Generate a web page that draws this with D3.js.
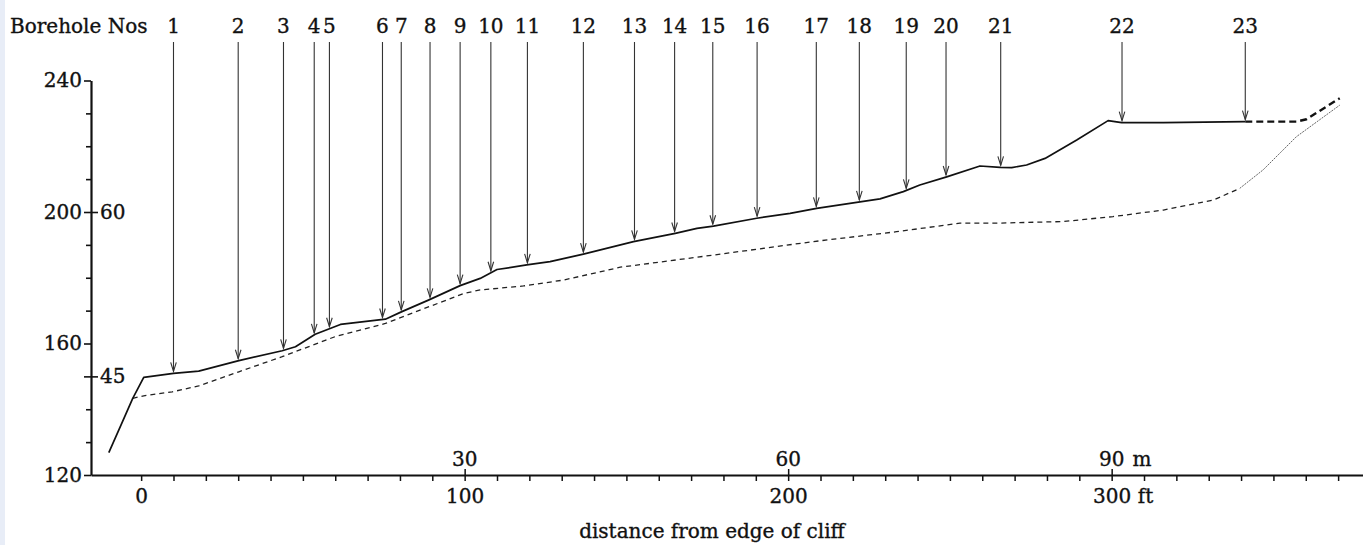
<!DOCTYPE html>
<html>
<head>
<meta charset="utf-8">
<script src="https://cdn.jsdelivr.net/npm/d3@7"></script>
<style>
  body { margin: 0; background: #fff; }
  svg { display: block; }
  svg text { stroke: #111; stroke-width: 0.35px; }
</style>
</head>
<body>
<div id="profile"></div>
<script>
// borehole numbers and their distance from the cliff edge (ft)
var boreholeNos = [1, 2, 3, 4, 5, 6, 7, 8, 9, 10, 11, 12, 13, 14, 15, 16, 17, 18, 19, 20, 21, 22, 23];
var boreholeDist = [10, 30, 44, 53.5, 58.2, 74.6, 80.4, 89.3, 98.6, 108.1, 119.4, 136.7, 152.5, 164.9, 176.7, 190.4, 208.7, 222, 236.5, 248.8, 265.7, 303.2, 341.3];

// ground surface (solid), ft
var surfDist = [-10, -6, -2.6, 0.8, 10, 17.8, 30.2, 43.6, 47.7, 53.8, 61.6, 75.5, 80.6, 88.8, 98.6, 104.8, 110, 119.2, 126.4, 136.7, 152.2, 165.1, 171.8, 176.9, 190.3, 200.6, 208.8, 222.2, 228.4, 235.6, 240.7, 249, 259.3, 265.5, 269.1, 273.7, 279.4, 289.2, 298.9, 303.1, 316, 341.3];
var surfElev = [126.8, 135.7, 143.3, 149.7, 150.9, 151.6, 154.8, 157.8, 159, 162.8, 165.8, 167.4, 169.7, 173.2, 177.6, 179.8, 182.5, 183.9, 184.9, 187.2, 191, 193.5, 195, 195.7, 198.1, 199.6, 201.1, 203.1, 204, 206.2, 208.2, 210.7, 214, 213.6, 213.5, 214.3, 216.3, 221.9, 227.8, 227.2, 227.2, 227.5];

// ground surface beyond borehole 23 (heavy dashes)
var surfExtDist = [341.3, 357.1, 360.2, 370.5];
var surfExtElev = [227.5, 227.5, 228.2, 234.6];

// lower surface (dashed)
var lowerDist = [-2.6, 0.8, 9.6, 17.8, 30.2, 43.6, 60, 75.5, 89, 100, 104.8, 118.2, 130.6, 148.1, 176.9, 207.8, 233.5, 253.1, 264.4, 285, 300.4, 316, 331.4, 339.6];
var lowerElev = [143.3, 144.1, 145.3, 147.1, 151.4, 156, 162.1, 166.1, 171.2, 175.3, 176.3, 177.5, 179.3, 183.2, 186.9, 191, 194, 196.6, 196.6, 197.1, 198.6, 200.6, 203.6, 207.2];

// lower surface where it rises to meet the ground (fine line)
var lowerExtDist = [339.6, 346.8, 357.1, 370.5];
var lowerExtElev = [207.2, 212.8, 222.9, 232.5];

// axis labels
var yLabelsFt = [120, 160, 200, 240];
var yLabelsM = ["45", "60"];
var yLabelsMAt = [150, 200];
var xLabelsFt = [0, 100, 200, 300];
var xLabelsM = ["30", "60", "90"];
var xLabelsMAt = [100, 200, 300];

var width = 1363, height = 545;
var font = "'DejaVu Serif', 'Liberation Serif', serif";

var svg = d3.select("#profile")
  .append("svg")
    .attr("width", width)
    .attr("height", height)
    .style("font-family", font);

// scanned page edge on the left
svg.append("rect")
  .attr("x", 0).attr("y", 0)
  .attr("width", 5).attr("height", height)
  .attr("fill", "#e8edf7");

var x = d3.scaleLinear()
  .domain([-15.5, 378])
  .range([91, 1364]);

var y = d3.scaleLinear()
  .domain([120, 240])
  .range([475, 80.5]);

// Y axis (ft on the left, metres on the right)
var yAxis = svg.append("g")
  .attr("transform", "translate(" + x(-15.5) + ",0)")
  .call(d3.axisLeft(y)
    .tickValues(d3.range(120, 241, 10))
    .tickSize(5)
    .tickSizeOuter(0)
    .tickPadding(4)
    .tickFormat(function(d) { return yLabelsFt.indexOf(d) >= 0 ? d : ""; }));

yAxis.select(".domain").attr("stroke", "#111").attr("stroke-width", 2.2);
yAxis.selectAll(".tick line")
  .attr("stroke", "#111")
  .attr("stroke-width", 1.6)
  .attr("x1", function(d) { return yLabelsMAt.indexOf(d) >= 0 ? 7 : 0; })
  .attr("x2", function(d) { return yLabelsFt.indexOf(d) >= 0 || yLabelsMAt.indexOf(d) >= 0 ? -7 : -5; });
yAxis.selectAll(".tick text")
  .attr("fill", "#111")
  .attr("font-family", font)
  .attr("font-size", 20);

yLabelsM.forEach(function(lab, i) {
  svg.append("text")
    .attr("x", x(-15.5) + 9)
    .attr("y", y(yLabelsMAt[i]))
    .attr("dy", "0.35em")
    .attr("font-size", 20)
    .attr("fill", "#111")
    .text(lab);
});

// X axis (ft below, metres above)
var xAxis = svg.append("g")
  .attr("transform", "translate(0," + y(120) + ")")
  .call(d3.axisBottom(x)
    .tickValues(d3.range(0, 371, 10))
    .tickSize(6)
    .tickSizeOuter(0)
    .tickPadding(8)
    .tickFormat(function(d) { return xLabelsFt.indexOf(d) >= 0 ? d : ""; }));

xAxis.select(".domain").attr("stroke", "#111").attr("stroke-width", 2.2);
xAxis.selectAll(".tick line")
  .attr("stroke", "#111")
  .attr("stroke-width", 1.5)
  .attr("y1", function(d) { return xLabelsMAt.indexOf(d) >= 0 ? -6 : 0; });
xAxis.selectAll(".tick text")
  .attr("fill", "#111")
  .attr("font-family", font)
  .attr("font-size", 20);

// "ft" after the 300 label
var lastFt = xAxis.selectAll(".tick text").filter(function(d) { return d == 300; });
var lastBox = lastFt.node().getBBox();
svg.append("text")
  .attr("x", x(300) + lastBox.width / 2 + 7)
  .attr("y", y(120) + lastBox.y + lastBox.height)
  .attr("dy", "-0.24em")
  .attr("font-size", 20)
  .attr("fill", "#111")
  .text("ft");

xLabelsM.forEach(function(lab, i) {
  var t = svg.append("text")
    .attr("x", x(xLabelsMAt[i]))
    .attr("y", y(120) - 9)
    .attr("text-anchor", "middle")
    .attr("font-size", 20)
    .attr("fill", "#111")
    .text(lab);
  if (i == xLabelsM.length - 1) {
    svg.append("text")
      .attr("x", x(xLabelsMAt[i]) + t.node().getBBox().width / 2 + 8)
      .attr("y", y(120) - 9)
      .attr("font-size", 20)
      .attr("fill", "#111")
      .text("m");
  }
});

svg.append("text")
  .attr("x", 712)
  .attr("y", 538)
  .attr("text-anchor", "middle")
  .attr("font-size", 20)
  .attr("fill", "#111")
  .text("distance from edge of cliff");

// profile lines
var line = d3.line()
  .x(function(d) { return x(d[0]); })
  .y(function(d) { return y(d[1]); });

function pairs(a, b) { return a.map(function(v, i) { return [v, b[i]]; }); }

svg.append("path")
  .attr("d", line(pairs(lowerDist, lowerElev)))
  .attr("fill", "none")
  .attr("stroke", "#222")
  .attr("stroke-width", 1.3)
  .attr("stroke-dasharray", "5,4");

svg.append("path")
  .attr("d", line(pairs(lowerExtDist, lowerExtElev)))
  .attr("fill", "none")
  .attr("stroke", "#666")
  .attr("stroke-width", 1)
  .attr("stroke-dasharray", "2,1");

svg.append("path")
  .attr("d", line(pairs(surfDist, surfElev)))
  .attr("fill", "none")
  .attr("stroke", "#111")
  .attr("stroke-width", 1.7)
  .attr("stroke-linejoin", "round");

svg.append("path")
  .attr("d", line(pairs(surfExtDist, surfExtElev)))
  .attr("fill", "none")
  .attr("stroke", "#111")
  .attr("stroke-width", 2.4)
  .attr("stroke-dasharray", "7,4");

// ground level under each borehole, for the arrow tips
function groundAt(d) {
  var i = d3.bisectLeft(surfDist, d);
  if (i <= 0) return surfElev[0];
  if (i >= surfDist.length) return surfElev[surfElev.length - 1];
  var t = (d - surfDist[i - 1]) / (surfDist[i] - surfDist[i - 1]);
  return surfElev[i - 1] + t * (surfElev[i] - surfElev[i - 1]);
}

// borehole arrows + numbers
svg.append("text")
  .attr("x", 10)
  .attr("y", 33)
  .attr("font-size", 20)
  .attr("fill", "#111")
  .text("Borehole Nos");

var arrows = svg.selectAll(".bh")
  .data(boreholeNos)
  .enter()
  .append("g")
    .attr("class", "bh");

arrows.append("line")
  .attr("x1", function(d, i) { return x(boreholeDist[i]); })
  .attr("x2", function(d, i) { return x(boreholeDist[i]); })
  .attr("y1", 42)
  .attr("y2", function(d, i) { return y(groundAt(boreholeDist[i])) - 2; })
  .attr("stroke", "#333")
  .attr("stroke-width", 1.1);

arrows.append("path")
  .attr("d", function(d, i) {
    var ax = x(boreholeDist[i]), ay = y(groundAt(boreholeDist[i])) - 2;
    return "M" + (ax - 2.8) + "," + (ay - 9) + "L" + ax + "," + ay + "L" + (ax + 2.8) + "," + (ay - 9);
  })
  .attr("fill", "none")
  .attr("stroke", "#333")
  .attr("stroke-width", 1.1);

arrows.append("text")
  .attr("x", function(d, i) { return x(boreholeDist[i]); })
  .attr("y", 33)
  .attr("text-anchor", "middle")
  .attr("font-size", 20)
  .attr("fill", "#111")
  .text(function(d) { return d; });
</script>
</body>
</html>
